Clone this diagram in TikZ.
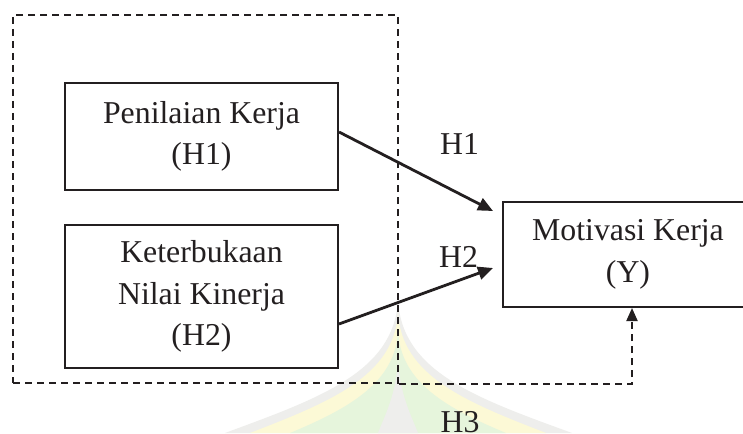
\documentclass[tikz,border=0pt]{standalone}
\usepackage{fontspec}
\setmainfont{Liberation Serif}
\usetikzlibrary{arrows.meta,calc}
\definecolor{ink}{RGB}{35,31,32}
\definecolor{wmgray}{RGB}{238,238,236}
\definecolor{wmyellow}{RGB}{252,249,214}
\definecolor{wmgreen}{RGB}{230,245,220}
\tikzset{
  box/.style={draw=ink, line width=2pt, align=center, text=ink,
    font=\fontsize{31.8}{41.5}\selectfont, inner sep=0pt},
  lbl/.style={text=ink, font=\fontsize{31.8}{38}\selectfont, inner sep=0pt},
  solidarrow/.style={draw=ink, line width=2.8pt, -{Triangle[length=15pt,width=13pt]}},
  dashline/.style={draw=ink, line width=2pt, dash pattern=on 7pt off 5pt},
  dasharrow/.style={dashline, -{Triangle[length=13pt,width=11pt]}},
}
\begin{document}
\begin{tikzpicture}[x=1pt,y=-1pt]
\useasboundingbox (0,0) rectangle (743,433);
\clip (0,0) rectangle (743,433);
\fill[white] (0,0) rectangle (743,433);
% faint watermark
\fill[wmgray] (398,300) .. controls (394,372) and (320,398) .. (225,433) -- (572,433) .. controls (476,398) and (402,372) .. (398,300) -- cycle;
\fill[wmyellow] (398,312) .. controls (395,376) and (330,402) .. (250,433) -- (546,433) .. controls (466,402) and (401,376) .. (398,312) -- cycle;
\fill[wmgreen] (398,330) .. controls (396,382) and (350,408) .. (290,433) -- (506,433) .. controls (446,408) and (400,382) .. (398,330) -- cycle;
\fill[wmgray] (398,360) .. controls (396,395) and (385,415) .. (378,433) -- (418,433) .. controls (411,415) and (400,395) .. (398,360) -- cycle;

\node[box, minimum width=273pt, minimum height=107pt] (pk) at (201.5,136.5) {Penilaian Kerja\\(H1)};
\node[box, minimum width=273pt, minimum height=143pt] (kn) at (201.5,296.5) {Keterbukaan\\Nilai Kinerja\\(H2)};
\node[box, minimum width=250pt, minimum height=105pt] (mk) at (628,254.5) {Motivasi Kerja\\(Y)};
\node[dashline, minimum width=385pt, minimum height=368pt, inner sep=0pt] (grp) at (205.5,199) {};

\node[lbl] (h1) at (459.5,144.5) {H1};
\node[lbl] (h2) at (458.5,256.5) {H2};
\node[lbl] (h3) at (460,422) {H3};

\coordinate (t1) at ([xshift=-9pt,yshift=-10pt]mk.north west);
\coordinate (t2) at ([xshift=-9pt,yshift=-13.5pt]mk.west);
\draw[solidarrow] ([yshift=4.5pt]pk.east) -- (t1);
\draw[solidarrow] ([yshift=-27.5pt]kn.east) -- (t2);
\draw[dasharrow] (grp.south east) -| ([xshift=4pt]mk.south);
\end{tikzpicture}
\end{document}
